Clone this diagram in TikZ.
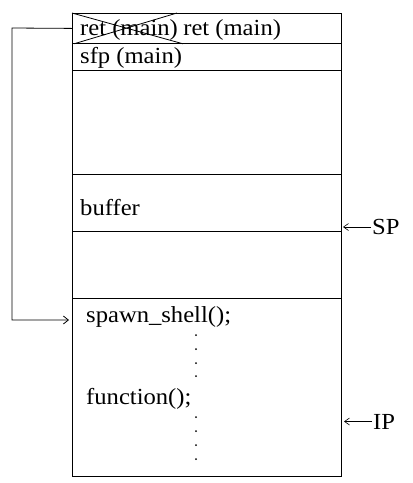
\documentclass[tikz,border=0pt]{standalone}
\usepackage{fontspec}
\setmainfont{Liberation Serif}[FakeStretch=1.07]
\usetikzlibrary{arrows.meta,positioning}
\tikzset{
  slot/.style={rectangle, draw=black, line width=0.8pt, minimum width=269pt,
               anchor=north west, inner sep=0pt},
  txt/.style={anchor=base west, inner sep=0pt, font=\fontsize{23}{26}\selectfont},
  ptr/.style={-{Straight Barb[length=5pt,width=7pt]}, line width=0.6pt},
  jump/.style={-{Straight Barb[length=5pt,width=8pt]}, line width=0.8pt}
}
\begin{document}
\begin{tikzpicture}[x=1pt, y=-1pt]
 \useasboundingbox (0,0) rectangle (413,483);
 % stack slots, top to bottom
 \node[slot, minimum height=30pt] (ret) at (72,13) {};
 \node[slot, minimum height=27pt] (sfp) at (72,43) {};
 \node[slot, minimum height=104pt] (gap) at (72,70) {};
 \node[slot, minimum height=57pt] (buf) at (72,174) {};
 \node[slot, minimum height=67pt] (pad) at (72,231) {};
 \node[slot, minimum height=178pt] (code) at (72,298) {};
 % labels
 \node[txt] (oldret) at (80,35) {ret (main)};
 \node[txt, right=5pt of oldret.base east, anchor=base west] (newret) {ret (main)};
 \node[txt] (sfplbl) at (80,63) {sfp (main)};
 \node[txt] (buflbl) at (80,215) {buffer};
 \node[txt] (spawn) at (86,322) {spawn\_shell();};
 \node[txt] (func) at (86,404) {function();};
 \foreach \y in {335,349,363,376,417,431,445,459}
   \fill (196,\y) circle (1pt);
 % old return address crossed out
 \draw[line width=0.8pt] (ret.north west) -- ([xshift=111pt]ret.south west);
 \draw[line width=0.8pt] ([xshift=2pt]ret.south west) -- ([xshift=105pt]ret.north west);
 % registers
 \node[txt] (sp) at (372,234) {SP};
 \node[txt] (ip) at (373,429) {IP};
 \draw[ptr] ([xshift=-1pt,yshift=7pt]sp.base west) -- ++(-28pt,0);
 \draw[ptr] ([xshift=-1pt,yshift=7.5pt]ip.base west) -- ++(-28pt,0);
 % overwritten return jumps to shell code
 \coordinate (hit) at (69,320);
 \draw[jump] (ret.west) -- (12,28) |- (hit);
\end{tikzpicture}
\end{document}
